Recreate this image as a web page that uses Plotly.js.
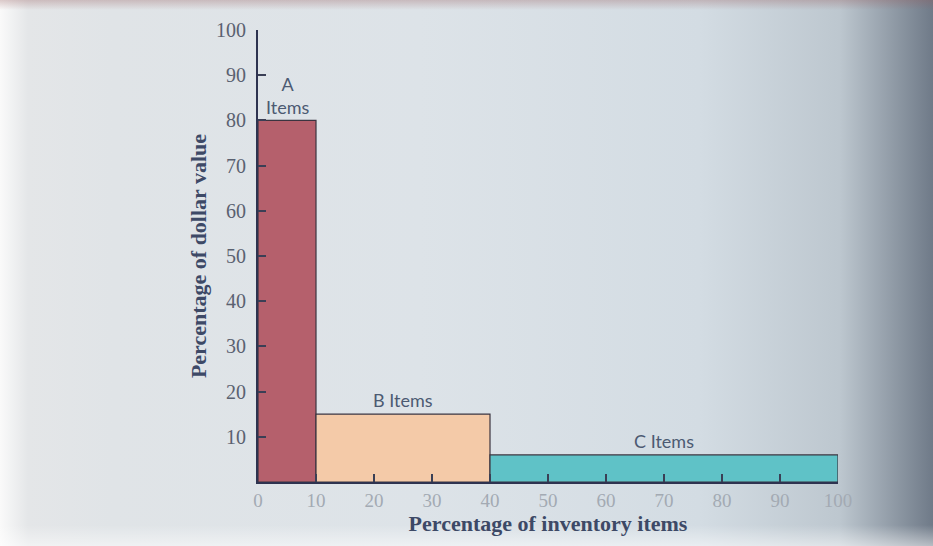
<!DOCTYPE html>
<html>
<head>
<meta charset="utf-8">
<script src="https://cdn.plot.ly/plotly-3.0.1.min.js"></script>
<style>
html,body{margin:0;padding:0;width:933px;height:546px;overflow:hidden;}
body{background:
 linear-gradient(to bottom, rgba(150,90,90,0.3) 0px, rgba(150,90,90,0) 10px, rgba(0,0,0,0) 525px, rgba(255,255,255,0.5) 546px),
 linear-gradient(to right, #fafafa 0%, #e4e6e8 3%, #e0e4e7 12%, #dde3e8 45%, #d3dce3 75%, #bdc7cf 90%, #6f7a88 100%);}
#chart{width:933px;height:546px;}
</style>
</head>
<body>
<div id="chart"></div>
<script>
var categories = ["A Items", "B Items", "C Items"];
var itemStart = [0, 10, 40];      // % of inventory items where each class begins
var itemShare = [10, 30, 60];     // % of inventory items in each class
var valueShare = [80, 15, 6];     // % of dollar value
var barColors = ["#b5606c", "#f4caa8", "#5fc2c7"];
var xTicks = [0, 10, 20, 30, 40, 50, 60, 70, 80, 90, 100];
var yTicks = [10, 20, 30, 40, 50, 60, 70, 80, 90, 100];

var trace = {
  type: "bar",
  x: itemStart,
  y: valueShare,
  width: itemShare,
  offset: 0,
  marker: {color: barColors, line: {color: "#3b3440", width: 1.2}},
  hoverinfo: "skip",
  showlegend: false
};

var annotations = [
  {x: itemStart[0] + itemShare[0] / 2, y: valueShare[0], text: "A<br>Items", yanchor: "bottom", yshift: 0},
  {x: itemStart[1] + itemShare[1] / 2, y: valueShare[1], text: "B Items", yanchor: "bottom", yshift: 1},
  {x: itemStart[2] + itemShare[2] / 2, y: valueShare[2], text: "C Items", yanchor: "bottom", yshift: 1}
].map(function (a) {
  return Object.assign({xref: "x", yref: "y", showarrow: false, xanchor: "center",
    font: {family: "Lato, 'Open Sans', sans-serif", size: 18, color: "#4c5a72"}}, a);
});

var layout = {
  width: 933, height: 546,
  margin: {l: 258, r: 95, t: 30, b: 64},
  paper_bgcolor: "rgba(0,0,0,0)",
  plot_bgcolor: "rgba(0,0,0,0)",
  bargap: 0,
  xaxis: {
    range: [0, 100], tickvals: xTicks, ticktext: xTicks.map(String),
    ticks: "inside", ticklen: 8, tickwidth: 2, tickcolor: "#3a3f55",
    showgrid: false, zeroline: false, showline: true, linecolor: "#2e3350", linewidth: 2,
    tickfont: {family: "'Liberation Serif', serif", size: 19, color: "#a3aab3"},
    title: {text: "Percentage of inventory items", standoff: 6,
      font: {family: "'Liberation Serif', serif", size: 22, color: "#3d4966", weight: "bold"}}
  },
  yaxis: {
    range: [0, 100], tickvals: yTicks, ticktext: yTicks.map(String),
    ticks: "inside", ticklen: 8, tickwidth: 2, tickcolor: "#3a3f55",
    ticklabelstandoff: 6,
    showgrid: false, zeroline: false, showline: true, linecolor: "#2e3350", linewidth: 2,
    tickfont: {family: "'Liberation Serif', serif", size: 20, color: "#5a6170"},
    title: {text: "Percentage of dollar value", standoff: 3,
      font: {family: "'Liberation Serif', serif", size: 22, color: "#3d4966", weight: "bold"}}
  },
  annotations: annotations
};

Plotly.newPlot("chart", [trace], layout, {displayModeBar: false, staticPlot: true});
</script>
</body>
</html>
